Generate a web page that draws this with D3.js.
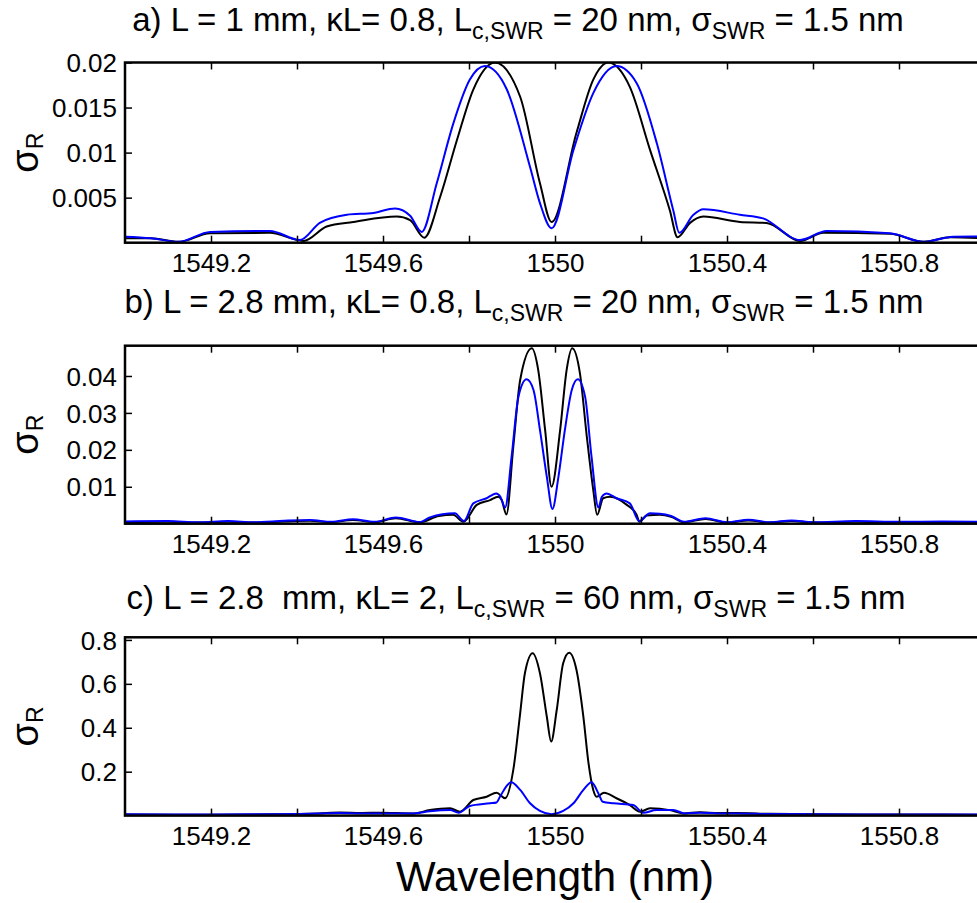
<!DOCTYPE html>
<html>
<head>
<meta charset="utf-8">
<script src="https://cdn.jsdelivr.net/npm/d3@7"></script>
<style>
  body { margin: 0; background: #fff; }
  svg { display: block; font-family: "Liberation Sans", Arial, sans-serif; }
  .title { white-space: pre; }
</style>
</head>
<body>
<svg id="chart" width="977" height="903"></svg>
<script>
const width = 977;
const height = 903;
const xLeft = 125, pxPerNm = 430;
const fontSize = 26;

// x ticks
const xTicks = [1549.2, 1549.4, 1549.6, 1549.8, 1550, 1550.2, 1550.4, 1550.6, 1550.8];
const xTickLabels = [1549.2, 1549.6, 1550, 1550.4, 1550.8];

// panel a : L = 1 mm
const aWlBlack = [1549.0, 1549.06, 1549.124, 1549.198, 1549.337, 1549.415, 1549.469, 1549.531, 1549.632, 1549.663, 1549.696,
  1549.733, 1549.772, 1549.81, 1549.86, 1549.919, 1549.965, 1549.992, 1550.05, 1550.089, 1550.124, 1550.174, 1550.221,
  1550.267, 1550.285, 1550.314, 1550.345, 1550.43, 1550.492, 1550.57, 1550.624, 1550.779, 1550.857, 1550.919, 1551.0];
const aBlack = [0.0005, 0.0005, 0.0001, 0.00104, 0.0011, 0.0002, 0.0018, 0.0023, 0.0029, 0.0025, 0.00056,
  0.0051, 0.0114, 0.017, 0.02, 0.0162, 0.0066, 0.0023, 0.0122, 0.0181, 0.02, 0.0173, 0.0103,
  0.0036, 0.0006, 0.0022, 0.0029, 0.0023, 0.0022, 0.0002, 0.0011, 0.001, 0.0001, 0.0006, 0.0005];
const aWlBlue = [1549.0, 1549.06, 1549.124, 1549.198, 1549.337, 1549.407, 1549.453, 1549.516, 1549.578, 1549.628, 1549.663,
  1549.69, 1549.725, 1549.764, 1549.802, 1549.837, 1549.888, 1549.942, 1549.965, 1549.992, 1550.043, 1550.089, 1550.143,
  1550.19, 1550.237, 1550.275, 1550.289, 1550.322, 1550.345, 1550.43, 1550.484, 1550.57, 1550.632, 1550.779, 1550.857,
  1550.926, 1551.0];
const aBlue = [0.00067, 0.0005, 0.0001, 0.0012, 0.0013, 0.0003, 0.0022, 0.0031, 0.0033, 0.0038, 0.003,
  0.0012, 0.0066, 0.0133, 0.0181, 0.0196, 0.017, 0.0084, 0.0044, 0.0016, 0.0103, 0.0166, 0.0196,
  0.0177, 0.011, 0.0036, 0.0011, 0.0031, 0.0037, 0.0031, 0.0027, 0.0003, 0.0013, 0.00104, 0.0001,
  0.00067, 0.0007];

// panel b : L = 2.8 mm
const bWlBlack = [1549.0, 1549.1, 1549.17, 1549.24, 1549.3, 1549.37, 1549.43, 1549.48, 1549.53, 1549.58, 1549.63, 1549.686,
  1549.73, 1549.763, 1549.787, 1549.818, 1549.849, 1549.868, 1549.876, 1549.887, 1549.903, 1549.919, 1549.946, 1549.961,
  1549.977, 1549.992, 1550.012, 1550.027, 1550.04, 1550.058, 1550.074, 1550.089, 1550.098, 1550.112, 1550.128, 1550.167,
  1550.19, 1550.196, 1550.213, 1550.244, 1550.27, 1550.3, 1550.35, 1550.4, 1550.45, 1550.5, 1550.55, 1550.6, 1550.7,
  1550.8, 1550.9, 1551.0];
const bBlack = [0.0004, 0.0005, 0.0003, 0.0005, 0.0003, 0.0006, 0.0008, 0.0004, 0.001, 0.0004, 0.0015, 0.0004,
  0.0021, 0.0024, 0.0005, 0.0051, 0.0064, 0.0073, 0.0064, 0.0025, 0.0208, 0.0389, 0.0475, 0.0416,
  0.0254, 0.01, 0.0254, 0.0416, 0.0475, 0.0407, 0.0236, 0.0091, 0.0024, 0.0069, 0.0073, 0.0051,
  0.0024, 0.0005, 0.0022, 0.0024, 0.0019, 0.0004, 0.0013, 0.0003, 0.0009, 0.0003, 0.0007, 0.0003, 0.0005,
  0.0003, 0.0004, 0.0003];
const bWlBlue = [1549.0, 1549.1, 1549.17, 1549.24, 1549.3, 1549.37, 1549.43, 1549.48, 1549.53, 1549.58, 1549.63, 1549.686,
  1549.709, 1549.767, 1549.788, 1549.81, 1549.841, 1549.863, 1549.873, 1549.884, 1549.899, 1549.915, 1549.934, 1549.95,
  1549.965, 1549.981, 1549.994, 1550.008, 1550.023, 1550.039, 1550.053, 1550.07, 1550.085, 1550.101, 1550.109, 1550.12,
  1550.143, 1550.174, 1550.196, 1550.221, 1550.244, 1550.27, 1550.3, 1550.35, 1550.4, 1550.45, 1550.5, 1550.55, 1550.6,
  1550.7, 1550.8, 1550.9, 1551.0];
const bBlue = [0.0006, 0.0007, 0.0004, 0.0007, 0.0004, 0.0008, 0.001, 0.0005, 0.0012, 0.0005, 0.0017, 0.0004,
  0.0017, 0.0028, 0.0007, 0.0055, 0.0069, 0.0082, 0.0073, 0.0044, 0.0181, 0.0344, 0.0391, 0.0362,
  0.0254, 0.0127, 0.004, 0.0127, 0.0254, 0.0362, 0.0391, 0.0344, 0.0181, 0.0044, 0.0073, 0.0082,
  0.0069, 0.0055, 0.0007, 0.0028, 0.0027, 0.0021, 0.0005, 0.0015, 0.0004, 0.0011, 0.0004, 0.0009, 0.0004,
  0.0007, 0.0005, 0.0006, 0.0005];

// panel c : L = 2.8 mm, kL = 2
const cWlBlack = [1549.0, 1549.2, 1549.35, 1549.45, 1549.5, 1549.55, 1549.593, 1549.671, 1549.709, 1549.756, 1549.779,
  1549.81, 1549.841, 1549.864, 1549.884, 1549.903, 1549.919, 1549.93, 1549.948, 1549.965, 1549.981, 1549.991, 1550.004,
  1550.019, 1550.033, 1550.05, 1550.066, 1550.078, 1550.089, 1550.097, 1550.114, 1550.143, 1550.174, 1550.198, 1550.221,
  1550.267, 1550.298, 1550.337, 1550.38, 1550.42, 1550.5, 1550.6, 1550.8, 1551.0];
const cBlack = [0.005, 0.004, 0.006, 0.01, 0.014, 0.012, 0.013, 0.01, 0.025, 0.033, 0.018,
  0.071, 0.086, 0.104, 0.079, 0.208, 0.466, 0.648, 0.739, 0.648, 0.45, 0.337, 0.481,
  0.694, 0.742, 0.663, 0.45, 0.238, 0.117, 0.086, 0.104, 0.079, 0.048, 0.018, 0.033,
  0.025, 0.01, 0.015, 0.012, 0.012, 0.008, 0.006, 0.005, 0.004];
const cWlBlue = [1549.0, 1549.2, 1549.35, 1549.45, 1549.5, 1549.55, 1549.593, 1549.671, 1549.709, 1549.756, 1549.776,
  1549.802, 1549.849, 1549.864, 1549.872, 1549.898, 1549.919, 1549.942, 1549.965, 1549.992, 1550.019, 1550.043, 1550.066,
  1550.085, 1550.101, 1550.111, 1550.136, 1550.182, 1550.205, 1550.236, 1550.275, 1550.302, 1550.337, 1550.38, 1550.42,
  1550.5, 1550.6, 1550.8, 1551.0];
const cBlue = [0.006, 0.005, 0.006, 0.009, 0.012, 0.01, 0.01, 0.01, 0.02, 0.025, 0.013,
  0.044, 0.056, 0.06, 0.086, 0.152, 0.117, 0.056, 0.021, 0.006, 0.021, 0.056, 0.117,
  0.152, 0.101, 0.063, 0.056, 0.048, 0.013, 0.025, 0.025, 0.01, 0.013, 0.01, 0.01,
  0.007, 0.006, 0.005, 0.005];

// y ticks per panel
const aYTicks = [0.005, 0.01, 0.015, 0.02];
const bYTicks = [0.01, 0.02, 0.03, 0.04];
const cYTicks = [0.2, 0.4, 0.6, 0.8];

const panels = [
  { id: "a", top: 62.5, bottom: 242.7, yMax: 0.02, yTicks: aYTicks,
    titleX: 518, titleY: 31, pre: "a) L = 1 mm, κL= 0.8, L", mid: " = 20 nm, σ", post: " = 1.5 nm",
    black: [aWlBlack, aBlack], blue: [aWlBlue, aBlue] },
  { id: "b", top: 345.7, bottom: 523.7, yMax: 0.0482, yTicks: bYTicks,
    titleX: 524, titleY: 313, pre: "b) L = 2.8 mm, κL= 0.8, L", mid: " = 20 nm, σ", post: " = 1.5 nm",
    black: [bWlBlack, bBlack], blue: [bWlBlue, bBlue] },
  { id: "c", top: 637.3, bottom: 815.6, yMax: 0.812, yTicks: cYTicks,
    titleX: 516, titleY: 609, pre: "c) L = 2.8  mm, κL= 2, L", mid: " = 60 nm, σ", post: " = 1.5 nm",
    black: [cWlBlack, cBlack], blue: [cWlBlue, cBlue] }
];

const svg = d3.select("#chart");

const x = d3.scaleLinear()
  .domain([1549, 1551])
  .range([xLeft, xLeft + 2 * pxPerNm]);

panels.forEach(p => {
  const y = d3.scaleLinear().domain([0, p.yMax]).range([p.bottom, p.top]);
  const g = svg.append("g");

  // clip to the plot box
  g.append("clipPath").attr("id", "clip-" + p.id)
    .append("rect")
    .attr("x", x(1549)).attr("y", p.top)
    .attr("width", x(1551) - x(1549)).attr("height", p.bottom - p.top);

  const line = d3.line()
    .x(d => x(d[0]))
    .y(d => y(d[1]))
    .curve(d3.curveMonotoneX);

  // Draw black first, blue over it
  [[p.black, "#000"], [p.blue, "#0000ff"]].forEach(([s, col]) => {
    g.append("path")
      .datum(s[0].map((w, i) => [w, s[1][i]]))
      .attr("clip-path", `url(#clip-${p.id})`)
      .attr("d", line)
      .attr("fill", "none")
      .attr("stroke", col)
      .attr("stroke-width", 2)
      .attr("stroke-linejoin", "round");
  });

  // bottom axis, ticks inward
  const xb = g.append("g")
    .attr("transform", `translate(0,${p.bottom})`)
    .call(d3.axisBottom(x).tickValues(xTicks).tickSizeInner(-7).tickSizeOuter(0)
      .tickFormat(d => xTickLabels.includes(d) ? d3.format("")(d) : ""));
  xb.selectAll("text").attr("dy", 0).attr("y", 29)
    .style("font-size", fontSize + "px").style("font-family", "Liberation Sans, Arial, sans-serif");

  // top axis ticks
  g.append("g")
    .attr("transform", `translate(0,${p.top})`)
    .call(d3.axisTop(x).tickValues(xTicks).tickSizeInner(-7).tickSizeOuter(0).tickFormat(""));

  // left axis
  const yl = g.append("g")
    .attr("transform", `translate(${xLeft},0)`)
    .call(d3.axisLeft(y).tickValues(p.yTicks).tickSizeInner(-7).tickSizeOuter(0).tickFormat(d => String(d)));
  yl.selectAll("text").attr("x", -8).attr("dy", "0.35em")
    .style("font-size", fontSize + "px").style("font-family", "Liberation Sans, Arial, sans-serif");

  svg.selectAll(".domain").remove();
  g.selectAll(".tick line").attr("stroke", "#000").attr("stroke-width", 1.5);

  // box
  g.append("rect")
    .attr("x", x(1549)).attr("y", p.top)
    .attr("width", x(1551) - x(1549)).attr("height", p.bottom - p.top)
    .attr("fill", "none").attr("stroke", "#000").attr("stroke-width", 2.5);

  // y label
  const yLab = g.append("text")
    .attr("transform", `translate(38,${(p.top + p.bottom) / 2}) rotate(-90)`)
    .attr("text-anchor", "middle")
    .style("font-size", "38px");
  yLab.append("tspan").text("σ");
  yLab.append("tspan").attr("dy", 5).style("font-size", "23px").text("R");

  // panel title
  const t = svg.append("text")
    .attr("class", "title")
    .attr("x", p.titleX).attr("y", p.titleY)
    .attr("text-anchor", "middle")
    .style("font-size", "33px");
  t.append("tspan").text(p.pre);
  t.append("tspan").attr("dy", 8).style("font-size", "23px").text("c,SWR");
  t.append("tspan").attr("dy", -8).text(p.mid);
  t.append("tspan").attr("dy", 8).style("font-size", "23px").text("SWR");
  t.append("tspan").attr("dy", -8).text(p.post);
});

svg.append("text")
  .attr("x", 555).attr("y", 891)
  .attr("text-anchor", "middle")
  .style("font-size", "42px")
  .text("Wavelength (nm)");
</script>
</body>
</html>
